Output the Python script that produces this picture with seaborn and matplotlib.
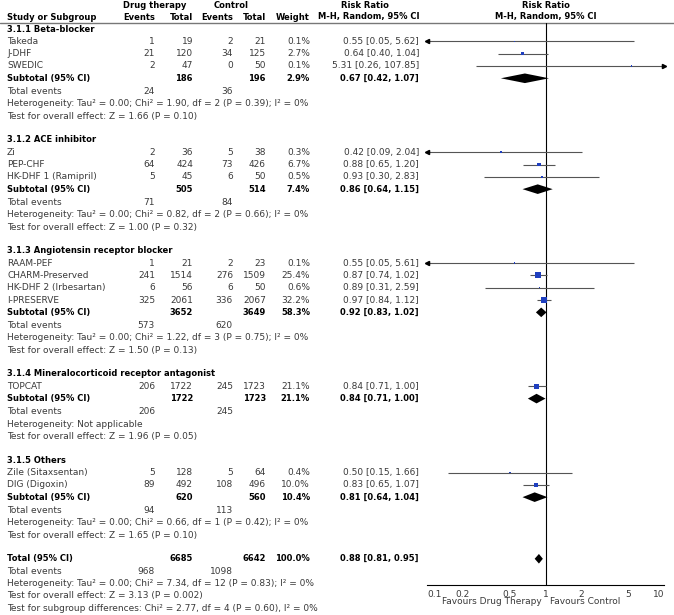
import numpy as np
import pandas as pd
import seaborn as sns
import matplotlib.pyplot as plt

# Study level data
studies = ["Takeda", "J-DHF", "SWEDIC",
           "Zi", "PEP-CHF", "HK-DHF 1 (Ramipril)",
           "RAAM-PEF", "CHARM-Preserved", "HK-DHF 2 (Irbesartan)", "I-PRESERVE",
           "TOPCAT",
           "Zile (Sitaxsentan)", "DIG (Digoxin)"]
study_group = [0, 0, 0, 1, 1, 1, 2, 2, 2, 2, 3, 4, 4]
drug_events = [1, 21, 2, 2, 64, 5, 1, 241, 6, 325, 206, 5, 89]
drug_total = [19, 120, 47, 36, 424, 45, 21, 1514, 56, 2061, 1722, 128, 492]
ctrl_events = [2, 34, 0, 5, 73, 6, 2, 276, 6, 336, 245, 5, 108]
ctrl_total = [21, 125, 50, 38, 426, 50, 23, 1509, 50, 2067, 1723, 64, 496]
weight = [0.1, 2.7, 0.1, 0.3, 6.7, 0.5, 0.1, 25.4, 0.6, 32.2, 21.1, 0.4, 10.0]
rr = [0.55, 0.64, 5.31, 0.42, 0.88, 0.93, 0.55, 0.87, 0.89, 0.97, 0.84, 0.50, 0.83]
rr_lo = [0.05, 0.40, 0.26, 0.09, 0.65, 0.30, 0.05, 0.74, 0.31, 0.84, 0.71, 0.15, 0.65]
rr_hi = [5.62, 1.04, 107.85, 2.04, 1.20, 2.83, 5.61, 1.02, 2.59, 1.12, 1.00, 1.66, 1.07]

# Subgroup data
groups = ["3.1.1 Beta-blocker", "3.1.2 ACE inhibitor", "3.1.3 Angiotensin receptor blocker",
          "3.1.4 Mineralocorticoid receptor antagonist", "3.1.5 Others"]
sub_drug_total = [186, 505, 3652, 1722, 620]
sub_ctrl_total = [196, 514, 3649, 1723, 560]
sub_weight = ["2.9%", "7.4%", "58.3%", "21.1%", "10.4%"]
sub_drug_events = [24, 71, 573, 206, 94]
sub_ctrl_events = [36, 84, 620, 245, 113]
sub_rr = [0.67, 0.86, 0.92, 0.84, 0.81]
sub_lo = [0.42, 0.64, 0.83, 0.71, 0.64]
sub_hi = [1.07, 1.15, 1.02, 1.00, 1.04]
sub_het = ["Heterogeneity: Tau² = 0.00; Chi² = 1.90, df = 2 (P = 0.39); I² = 0%",
           "Heterogeneity: Tau² = 0.00; Chi² = 0.82, df = 2 (P = 0.66); I² = 0%",
           "Heterogeneity: Tau² = 0.00; Chi² = 1.22, df = 3 (P = 0.75); I² = 0%",
           "Heterogeneity: Not applicable",
           "Heterogeneity: Tau² = 0.00; Chi² = 0.66, df = 1 (P = 0.42); I² = 0%"]
sub_test = ["Test for overall effect: Z = 1.66 (P = 0.10)",
            "Test for overall effect: Z = 1.00 (P = 0.32)",
            "Test for overall effect: Z = 1.50 (P = 0.13)",
            "Test for overall effect: Z = 1.96 (P = 0.05)",
            "Test for overall effect: Z = 1.65 (P = 0.10)"]

# Overall
total_drug, total_ctrl, total_weight = 6685, 6642, "100.0%"
total_drug_events, total_ctrl_events = 968, 1098
total_rr, total_lo, total_hi = 0.88, 0.81, 0.95
total_het = "Heterogeneity: Tau² = 0.00; Chi² = 7.34, df = 12 (P = 0.83); I² = 0%"
total_test = "Test for overall effect: Z = 3.13 (P = 0.002)"
total_sub = "Test for subgroup differences: Chi² = 2.77, df = 4 (P = 0.60), I² = 0%"

tick_vals = [0.1, 0.2, 0.5, 1, 2, 5, 10]
tick_labels = ["0.1", "0.2", "0.5", "1", "2", "5", "10"]

sns.set_style("white")
plt.rcParams['font.family'] = ['DejaVu Sans']

W, H = 674, 615
fig = plt.figure(figsize=(W / 100, H / 100), dpi=100)
bg = fig.add_axes([0, 0, 1, 1])
bg.set_xlim(0, W)
bg.set_ylim(H, 0)
bg.axis("off")

FS = 6.5      # regular text
FSB = 6.0     # bold text
TXT = "#3a3a3a"
BLUE = "#1f3fbf"
LINE = "#555555"

# column positions (px)
X_NAME, X_DE, X_DT, X_CE, X_CT, X_W, X_RR = 7, 155, 193, 233, 266, 310, 419
ROW0, DY = 29, 12.32


def row_y(i):
    return ROW0 + DY * i


def put(x, y, s, ha="right", bold=False):
    bg.text(x, y, s, ha=ha, va="center", fontsize=FSB if bold else FS,
            fontweight="bold" if bold else "normal",
            color="black" if bold else TXT)


# header
put(155, 5, "Drug therapy", ha="center", bold=True)
put(231, 5, "Control", ha="center", bold=True)
put(365, 5, "Risk Ratio", ha="center", bold=True)
put(546, 5, "Risk Ratio", ha="center", bold=True)
put(X_NAME, 17, "Study or Subgroup", ha="left", bold=True)
for x, s in [(X_DE, "Events"), (X_DT, "Total"), (X_CE, "Events"), (X_CT, "Total"), (X_W, "Weight")]:
    put(x, 17, s, bold=True)
put(X_RR, 17, "M-H, Random, 95% CI", bold=True)
put(546, 17, "M-H, Random, 95% CI", ha="center", bold=True)
bg.plot([0, W], [23, 23], color="#777777", lw=1)

# build table rows
study_rows, sub_rows = [], []
r = 0
for g, name in enumerate(groups):
    put(X_NAME, row_y(r), name, ha="left", bold=True)
    r += 1
    for i in [k for k, gg in enumerate(study_group) if gg == g]:
        y = row_y(r)
        put(X_NAME, y, studies[i], ha="left")
        put(X_DE, y, str(drug_events[i]))
        put(X_DT, y, str(drug_total[i]))
        put(X_CE, y, str(ctrl_events[i]))
        put(X_CT, y, str(ctrl_total[i]))
        put(X_W, y, f"{weight[i]:.1f}%")
        put(X_RR, y, f"{rr[i]:.2f} [{rr_lo[i]:.2f}, {rr_hi[i]:.2f}]")
        study_rows.append(y)
        r += 1
    y = row_y(r)
    put(X_NAME, y, "Subtotal (95% CI)", ha="left", bold=True)
    put(X_DT, y, str(sub_drug_total[g]), bold=True)
    put(X_CT, y, str(sub_ctrl_total[g]), bold=True)
    put(X_W, y, sub_weight[g], bold=True)
    put(X_RR, y, f"{sub_rr[g]:.2f} [{sub_lo[g]:.2f}, {sub_hi[g]:.2f}]", bold=True)
    sub_rows.append(y)
    r += 1
    y = row_y(r) + 1
    put(X_NAME, y, "Total events", ha="left")
    put(X_DE, y, str(sub_drug_events[g]))
    put(X_CE, y, str(sub_ctrl_events[g]))
    put(X_NAME, row_y(r + 1) + 1, sub_het[g], ha="left")
    put(X_NAME, row_y(r + 2) + 1, sub_test[g], ha="left")
    r += 4

# overall
y_tot = row_y(r)
put(X_NAME, y_tot, "Total (95% CI)", ha="left", bold=True)
put(X_DT, y_tot, str(total_drug), bold=True)
put(X_CT, y_tot, str(total_ctrl), bold=True)
put(X_W, y_tot, total_weight, bold=True)
put(X_RR, y_tot, f"{total_rr:.2f} [{total_lo:.2f}, {total_hi:.2f}]", bold=True)
put(X_NAME, row_y(r + 1), "Total events", ha="left")
put(X_DE, row_y(r + 1), str(total_drug_events))
put(X_CE, row_y(r + 1), str(total_ctrl_events))
put(X_NAME, row_y(r + 2), total_het, ha="left")
put(X_NAME, row_y(r + 3), total_test, ha="left")
put(X_NAME, row_y(r + 4), total_sub, ha="left")

# forest panel
AX_L, AX_R, AX_T, AX_B = 427, 664, 23, 585
ax = fig.add_axes([AX_L / W, (H - AX_B) / H, (AX_R - AX_L) / W, (AX_B - AX_T) / H])
ax.set_xscale("log")
ax.set_xlim(0.1, 10)
ax.set_ylim(AX_B, AX_T)
ax.patch.set_alpha(0)

df = pd.DataFrame({"rr": rr, "lo": rr_lo, "hi": rr_hi, "weight": weight, "y": study_rows})
lo_c = df["lo"].clip(lower=0.1)
hi_c = df["hi"].clip(upper=10)
ax.hlines(df["y"], lo_c, hi_c, color=LINE, lw=0.8, zorder=2)
left_cut = df[df["lo"] < 0.1]
right_cut = df[df["hi"] > 10]
ax.plot(np.full(len(left_cut), 0.1), left_cut["y"], ls="none", marker="<",
        ms=3, color="black", clip_on=False, zorder=3)
ax.plot(np.full(len(right_cut), 10), right_cut["y"], ls="none", marker=">",
        ms=3, color="black", clip_on=False, zorder=3)
sns.scatterplot(data=df, x="rr", y="y", size="weight", sizes=(0.8, 24),
                size_norm=(0, 32.2), marker="s", color=BLUE, edgecolor="none",
                legend=False, ax=ax, zorder=4)

# diamonds
dh = 4.8
for m, l, h, y in zip(sub_rr + [total_rr], sub_lo + [total_lo], sub_hi + [total_hi],
                      sub_rows + [y_tot]):
    ax.fill([l, m, h, m], [y, y - dh, y, y + dh], color="black", lw=0, zorder=5)

ax.axvline(1, color="black", lw=0.8, zorder=1)
for s in ["top", "left", "right"]:
    ax.spines[s].set_visible(False)
ax.spines["bottom"].set_color("black")
ax.spines["bottom"].set_linewidth(0.8)
ax.set_yticks([])
ax.set_xticks(tick_vals)
ax.set_xticklabels(tick_labels)
ax.minorticks_off()
ax.tick_params(axis="x", direction="inout", length=5, width=0.8, pad=1,
               labelsize=FS, labelcolor=TXT, color="black")
labs = ax.get_xticklabels()
labs[0].set_ha("left")
labs[-1].set_ha("right")
ax.set_xlabel("")
ax.set_ylabel("")

put(542, 602, "Favours Drug Therapy", ha="right")
put(550, 602, "Favours Control", ha="left")

fig.savefig("out.png", dpi=100)
